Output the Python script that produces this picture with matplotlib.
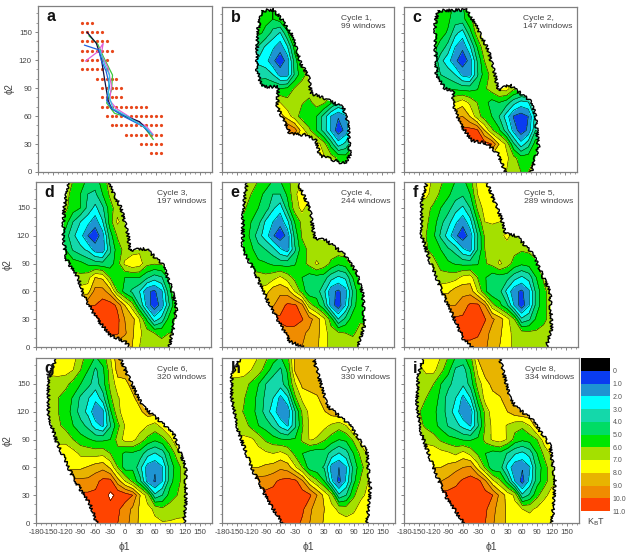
import numpy as np
import matplotlib
matplotlib.use('Agg')
import matplotlib.pyplot as plt
from matplotlib.patches import Polygon
from matplotlib.colors import ListedColormap, BoundaryNorm

plt.rcParams['font.family'] = ['Liberation Sans', 'DejaVu Sans']
plt.rcParams['axes.unicode_minus'] = False

"""values read off the picture"""
phi1_grid = list(range(-165, 136, 15))
phi2_grid = [180, 165, 150, 135, 120, 105, 90, 75, 60, 45, 30, 15, 0]

levels = [0, 1, 2, 3, 4, 5, 6, 7, 8, 9, 10, 11]
level_labels = ['0', '1.0', '2.0', '3.0', '4.0', '5.0', '6.0', '7.0', '8.0', '9.0', '10.0', '11.0']
level_colors = ['#0a3cf0', '#1e94d2', '#00ffff', '#14d8aa', '#00dc64', '#00e600',
                '#a4e000', '#ffff00', '#e8b400', '#f08c00', '#ff4400']

panel_names = ['b', 'c', 'd', 'e', 'f', 'g', 'h', 'i']
cycle_text = ['Cycle 1,\n99 windows', 'Cycle 2,\n147 windows', 'Cycle 3,\n197 windows',
              'Cycle 4,\n244 windows', 'Cycle 5,\n289 windows', 'Cycle 6,\n320 windows',
              'Cycle 7,\n330 windows', 'Cycle 8,\n334 windows']

# energy surfaces: one row per phi2 from 180 down to 0, (first phi1, values every 15 deg)
energy_b = [
    (-105, [5.3, 5.2, 5.0, 5.5]),
    (-105, [5.3, 5.2, 5.0, 5.5]),
    (-105, [5.2, 4.8, 3.6, 2.9, 4.9, 6.0]),
    (-105, [3.9, 2.8, 2.2, 1.4, 2.9, 5.4]),
    (-105, [2.8, 2.4, 1.2, 0.4, 1.4, 4.5, 6.2]),
    (-105, [3.5, 3.6, 3.0, 1.6, 1.6, 4.2, 5.7, 6.3]),
    (-60, [5.0, 5.2, 6.1, 6.4, 6.6]),
    (-60, [7.0, 6.4, 6.2, 6.1, 5.7, 6.5, 6.2, 5.2, 4.0, 4.7]),
    (-60, [8.5, 7.5, 6.5, 5.5, 5.2, 5.0, 3.6, 1.9, 1.1, 1.8, 3.7]),
    (-45, [10.3, 9.5, 7.5, 6.2, 5.0, 3.6, 1.8, 0.4, 1.3, 3.3]),
    (0, [8.0, 7.5, 6.5, 4.6, 2.5, 3.3, 4.8]),
    (15, [7.5, 7.2, 6.5, 5.8, 5.5, 5.8]),
    (60, [6.0, 6.0]),
]
energy_c = [
    (-120, [6.5, 5.9, 5.4, 4.8, 4.9, 6.0, 6.7]),
    (-120, [6.3, 5.7, 5.2, 4.5, 4.6, 5.8, 6.5]),
    (-120, [5.7, 5.3, 4.9, 3.3, 2.5, 4.5, 6.5, 7.5]),
    (-120, [5.3, 4.7, 3.6, 2.0, 1.2, 2.8, 5.0, 6.8, 7.5]),
    (-120, [5.0, 3.3, 2.4, 1.2, 0.4, 1.3, 4.0, 6.0, 6.7]),
    (-120, [4.5, 4.0, 3.6, 3.0, 1.7, 1.4, 3.8, 5.5, 6.3, 6.8]),
    (-90, [5.0, 4.8, 4.6, 4.6, 4.9, 5.8, 6.5, 7.3, 7.5, 6.2, 6.0]),
    (-75, [7.0, 7.6, 6.8, 6.0, 5.4, 4.6, 5.0, 4.5, 3.4, 2.6, 2.9, 4.5]),
    (-75, [8.8, 9.0, 8.0, 6.5, 5.5, 5.0, 4.0, 2.5, 0.9, 0.5, 1.0, 3.4]),
    (-60, [10.3, 10.4, 10.2, 8.0, 6.2, 5.2, 3.5, 1.6, 0.4, 1.2, 4.0]),
    (-30, [10.5, 10.5, 10.0, 8.0, 6.8, 4.2, 2.4, 3.6, 5.5]),
    (15, [7.5, 7.3, 6.3, 5.5, 5.5, 6.0]),
    (30, [7.0, 6.5, 6.0, 6.0, 6.2]),
]
energy_d = [
    (-120, [6.5, 6.0, 5.5, 4.8, 4.5, 5.5, 6.5]),
    (-120, [6.3, 5.7, 5.0, 4.0, 3.8, 5.0, 6.2, 6.5]),
    (-120, [6.2, 5.5, 5.0, 3.7, 2.7, 3.8, 5.5, 6.6, 6.7]),
    (-135, [6.0, 5.5, 4.0, 3.0, 2.3, 1.4, 2.9, 5.5, 7.2, 6.5, 6.3]),
    (-120, [4.5, 3.2, 2.4, 1.0, 0.4, 1.5, 4.5, 6.1, 6.8, 6.5]),
    (-120, [5.0, 3.9, 3.3, 2.8, 1.5, 1.3, 3.8, 5.5, 6.3, 6.5, 6.8, 6.5]),
    (-105, [5.5, 5.3, 4.8, 4.5, 4.3, 4.5, 5.5, 7.2, 7.8, 7.5, 6.3, 6.1, 6.2]),
    (-90, [6.3, 6.6, 8.0, 7.8, 6.0, 5.5, 5.0, 5.0, 5.0, 4.2, 3.5, 3.9, 5.3]),
    (-75, [7.5, 9.4, 9.4, 8.5, 6.0, 4.6, 3.8, 3.0, 1.2, 0.8, 1.8, 4.6, 6.3]),
    (-60, [10.0, 10.5, 10.5, 9.8, 8.0, 6.5, 4.0, 1.6, 0.4, 1.4, 3.9, 6.0]),
    (-45, [10.7, 10.7, 10.3, 9.0, 8.4, 7.0, 4.8, 2.4, 3.4, 5.4, 6.3]),
    (-30, [10.3, 10.2, 9.2, 8.2, 7.2, 6.5, 6.0, 5.8, 6.0]),
    (15, [8.0, 7.0, 6.5, 6.4, 6.3, 6.5]),
]
energy_e = [
    (-135, [6.5, 6.2, 6.0, 5.5, 5.0, 5.0, 5.5, 7.0]),
    (-135, [6.3, 6.0, 5.3, 4.8, 4.0, 4.0, 5.2, 6.8, 7.5]),
    (-135, [6.2, 5.5, 5.0, 4.6, 3.2, 2.4, 4.5, 6.5, 7.3, 6.5]),
    (-135, [5.7, 5.0, 4.4, 2.8, 2.0, 1.3, 2.7, 5.0, 6.3, 6.4]),
    (-135, [5.5, 4.8, 3.4, 2.5, 1.1, 0.4, 1.3, 4.3, 6.1, 6.4, 6.5]),
    (-135, [5.5, 5.2, 4.5, 4.0, 3.4, 2.2, 1.5, 3.8, 5.6, 6.2, 6.3, 6.4, 6.5, 6.6]),
    (-120, [5.3, 5.2, 5.1, 4.8, 4.6, 4.6, 4.9, 5.6, 6.3, 7.2, 6.6, 5.8, 5.2, 5.5, 6.3]),
    (-105, [6.5, 6.3, 6.6, 7.2, 6.5, 5.7, 5.0, 4.5, 4.6, 4.5, 3.4, 2.8, 3.2, 5.0, 6.2]),
    (-90, [7.5, 8.6, 8.8, 8.5, 7.0, 5.6, 4.3, 4.5, 3.3, 1.3, 0.8, 1.6, 4.1, 5.8]),
    (-75, [8.9, 9.5, 10.2, 10.2, 9.3, 6.5, 5.5, 4.2, 1.6, 0.4, 2.0, 4.5, 5.7]),
    (-60, [10.2, 10.6, 10.6, 10.1, 9.4, 8.5, 7.3, 5.5, 3.0, 4.3, 5.5, 5.9]),
    (-45, [9.5, 9.4, 9.2, 8.8, 8.3, 7.5, 6.5, 6.2, 6.0, 5.9, 6.2]),
    (-15, [9.0, 8.5, 8.2, 7.5, 6.5, 6.3, 6.2, 6.3]),
]
energy_f = [
    (-135, [7.5, 6.8, 6.2, 5.6, 5.0, 4.8, 5.6, 7.3, 8.0]),
    (-135, [7.3, 6.5, 5.8, 5.2, 4.5, 4.2, 5.0, 7.0, 7.8]),
    (-150, [6.5, 6.3, 5.8, 5.0, 4.4, 3.4, 2.8, 4.0, 6.2, 7.5, 7.7, 7.5]),
    (-150, [6.4, 6.2, 5.5, 4.3, 3.4, 2.2, 1.3, 2.6, 5.0, 7.0, 7.1, 7.0]),
    (-150, [6.2, 6.0, 5.2, 3.8, 2.5, 1.2, 0.4, 1.4, 3.9, 6.2, 6.5, 6.6, 7.3, 6.5]),
    (-150, [6.4, 6.1, 5.7, 5.0, 4.2, 3.6, 2.2, 1.6, 4.0, 6.0, 6.4, 6.5, 6.4, 6.3, 6.1, 6.2]),
    (-120, [6.3, 5.7, 5.2, 4.9, 4.7, 4.7, 4.9, 5.9, 6.3, 7.2, 6.5, 5.6, 5.2, 5.4, 5.9, 6.4]),
    (-105, [6.3, 6.5, 6.6, 7.3, 7.5, 6.0, 5.1, 4.4, 4.5, 4.4, 3.4, 2.8, 3.4, 5.0, 6.2, 6.6]),
    (-90, [7.8, 8.5, 8.7, 8.6, 7.0, 5.2, 4.2, 4.3, 2.7, 1.3, 0.8, 1.8, 4.4, 5.7, 6.5]),
    (-75, [9.0, 9.5, 10.2, 10.3, 9.0, 6.4, 5.3, 4.2, 1.9, 0.4, 1.9, 4.4, 5.7, 6.5]),
    (-60, [10.2, 10.7, 10.7, 10.1, 9.2, 8.5, 7.4, 6.0, 3.2, 3.8, 5.2, 5.8, 6.3]),
    (-45, [10.5, 10.2, 9.5, 8.6, 8.2, 7.4, 6.7, 6.5, 6.3, 6.2, 6.3]),
    (-30, [9.5, 9.2, 8.5, 8.0, 7.5, 6.7, 6.5, 6.4, 6.3, 6.4]),
]
energy_g = [
    (-135, [8.0, 7.8, 7.4, 6.5, 5.5, 5.0, 5.5, 7.0, 8.8]),
    (-135, [7.5, 7.4, 7.0, 6.0, 5.0, 3.8, 4.8, 6.5, 8.5]),
    (-150, [6.3, 6.4, 6.3, 5.6, 5.0, 4.3, 3.5, 4.6, 6.3, 7.5, 7.7, 8.4]),
    (-150, [6.3, 6.0, 5.5, 4.9, 3.8, 3.1, 2.3, 3.6, 5.8, 6.9, 7.5, 7.8, 8.5]),
    (-150, [6.5, 6.0, 5.4, 4.7, 3.5, 2.7, 1.2, 1.7, 4.8, 6.7, 7.6, 7.7, 7.8, 8.5]),
    (-135, [6.2, 5.6, 5.0, 4.4, 3.7, 2.4, 1.8, 3.9, 5.7, 7.1, 7.5, 7.5, 7.0, 6.6, 7.4, 8.3]),
    (-120, [6.8, 6.0, 5.4, 5.1, 4.8, 4.8, 5.0, 6.4, 7.4, 7.3, 6.5, 5.7, 5.2, 5.6, 6.6, 8.0]),
    (-105, [7.4, 6.8, 6.7, 6.6, 6.7, 6.0, 5.6, 4.7, 4.8, 4.5, 3.4, 2.9, 3.5, 5.1, 6.5, 7.5]),
    (-90, [7.8, 8.1, 8.5, 8.7, 7.8, 6.0, 4.5, 4.8, 3.3, 1.5, 1.1, 1.9, 4.4, 5.5, 6.6]),
    (-75, [9.3, 9.7, 10.3, 10.4, 8.5, 7.0, 5.8, 4.3, 1.5, 0.9, 2.0, 4.6, 5.6, 6.6]),
    (-60, [10.2, 10.5, 11.2, 10.8, 10.5, 10.0, 8.0, 6.5, 3.2, 4.0, 5.4, 6.0, 6.7]),
    (-45, [10.5, 10.7, 10.2, 9.5, 8.8, 7.8, 7.3, 6.8, 6.2, 6.5, 6.6, 6.7]),
    (-45, [10.3, 10.3, 10.0, 9.5, 8.5, 7.8, 7.4, 7.2, 7.1, 7.1, 7.2, 7.2]),
]
energy_h = [
    (-135, [8.0, 7.6, 7.0, 6.3, 5.5, 5.0, 5.8, 8.2, 8.8, 9.0]),
    (-135, [7.5, 7.0, 6.5, 5.5, 4.5, 3.8, 5.2, 8.2, 8.7, 8.9]),
    (-150, [6.6, 6.4, 5.8, 5.0, 4.0, 3.3, 3.5, 4.8, 6.9, 8.3, 8.6, 8.8]),
    (-150, [6.3, 6.1, 5.3, 4.8, 3.7, 3.0, 1.7, 2.8, 5.8, 7.3, 7.5, 7.8, 8.8]),
    (-150, [6.5, 5.9, 5.3, 4.7, 3.5, 2.5, 1.2, 1.3, 3.9, 6.2, 7.3, 7.6, 7.9, 8.5, 8.8]),
    (-135, [6.5, 5.7, 5.0, 4.6, 3.8, 2.7, 1.9, 3.8, 5.9, 7.2, 7.4, 7.3, 6.8, 6.4, 7.0, 8.4]),
    (-120, [7.2, 6.6, 5.8, 5.4, 5.1, 5.0, 5.1, 6.2, 7.1, 6.9, 6.1, 5.5, 5.0, 5.2, 6.2, 7.5]),
    (-120, [8.0, 7.4, 7.2, 7.0, 7.3, 6.8, 5.7, 5.0, 4.5, 4.2, 4.5, 3.6, 2.9, 3.6, 5.0, 6.3, 7.2]),
    (-105, [8.0, 8.2, 8.4, 8.8, 8.5, 7.2, 6.0, 4.5, 4.3, 3.9, 1.5, 1.0, 1.9, 4.4, 5.6, 6.8]),
    (-90, [9.5, 9.8, 10.2, 10.4, 10.3, 9.2, 7.3, 6.2, 5.0, 2.2, 0.7, 2.2, 4.7, 6.2, 7.0]),
    (-75, [10.3, 10.4, 10.6, 10.8, 10.5, 10.2, 9.0, 7.7, 6.5, 3.2, 4.0, 5.8, 6.8, 7.2]),
    (-60, [10.6, 10.5, 10.4, 10.2, 9.2, 8.5, 8.0, 7.3, 6.8, 6.5, 6.8, 7.4, 7.6]),
    (-60, [10.5, 10.4, 10.4, 9.8, 9.0, 8.4, 7.9, 7.6, 7.5, 7.4, 7.5, 7.6, 7.7]),
]
energy_i = [
    (-135, [8.0, 7.6, 7.0, 6.0, 5.0, 4.8, 5.8, 8.2, 8.8, 9.0]),
    (-150, [6.5, 7.3, 7.3, 6.3, 5.3, 3.8, 3.5, 5.0, 7.3, 8.5, 8.8]),
    (-150, [6.4, 6.2, 6.0, 5.0, 4.3, 3.5, 3.2, 4.4, 6.5, 7.6, 8.3, 8.8]),
    (-150, [6.1, 6.0, 5.5, 4.7, 3.5, 3.0, 1.7, 3.0, 5.5, 7.5, 7.7, 7.9, 8.8]),
    (-150, [6.1, 5.5, 5.2, 4.6, 3.5, 2.5, 1.2, 1.4, 4.3, 6.3, 7.6, 7.8, 8.0, 8.6, 8.9]),
    (-150, [6.3, 5.8, 5.3, 4.7, 3.9, 3.4, 2.6, 1.9, 3.9, 6.1, 7.3, 7.4, 6.9, 6.4, 6.2, 7.0, 8.6]),
    (-135, [6.7, 6.5, 5.8, 5.4, 5.2, 4.9, 4.9, 5.2, 6.3, 7.2, 7.5, 6.9, 5.6, 5.2, 5.4, 6.0, 7.6]),
    (-120, [7.6, 7.4, 7.2, 6.8, 7.4, 6.7, 5.8, 5.0, 4.5, 4.7, 3.9, 3.1, 2.7, 3.4, 5.0, 6.3, 7.3]),
    (-105, [8.0, 8.3, 8.7, 9.0, 9.2, 7.5, 5.8, 4.3, 4.4, 2.6, 1.3, 1.1, 1.9, 4.4, 5.5, 6.8]),
    (-105, [9.0, 9.3, 9.7, 10.2, 10.5, 10.4, 9.2, 7.3, 6.2, 4.6, 2.0, 0.6, 2.3, 4.6, 5.5, 6.8]),
    (-90, [10.4, 10.5, 10.6, 10.7, 10.7, 10.4, 10.0, 8.7, 7.6, 6.8, 3.2, 4.2, 5.7, 6.8, 7.3]),
    (-75, [10.6, 10.6, 10.5, 10.4, 10.2, 9.3, 8.5, 7.8, 7.3, 7.0, 6.8, 7.2, 7.5, 7.7]),
    (-60, [10.5, 10.4, 10.3, 10.0, 9.1, 8.5, 7.8, 7.6, 7.5, 7.5, 7.6, 7.7, 7.8]),
]
energies = [energy_b, energy_c, energy_d, energy_e, energy_f, energy_g, energy_h, energy_i]

# outline of the sampled region in each panel
edge_phi1_b = [-98, -74, -57, -38, -27, -18, -2, 4, 32, 70, 80, 84, 73, 60, 22, 14, -5, -40, -50, -66, -64, -98, -108, -107, -101]
edge_phi2_b = [174, 175, 165, 150, 135, 117, 104, 85, 79, 70, 52, 18, 9, 11, 18, 34, 40, 41, 54, 70, 92, 92, 111, 149, 167]
edge_phi1_c = [-110, -51, -27, -7, 7, 13, 37, 78, 89, 96, 78, 31, 13, -11, -41, -65, -79, -79, -96, -113, -116, -116]
edge_phi2_c = [174, 175, 153, 131, 104, 88, 94, 77, 63, 27, -5, -5, 20, 31, 34, 52, 74, 88, 90, 104, 138, 160]
edge_phi1_d = [-111, -40, -7, 7, 10, 44, 78, 95, 105, 98, 88, 20, 0, -30, -57, -84, -94, -119, -125, -123]
edge_phi2_d = [185, 185, 149, 120, 104, 106, 88, 63, 42, 20, -5, -5, 6, 13, 31, 56, 74, 95, 120, 149]
edge_phi1_e = [-126, -30, 1, 11, 35, 70, 97, 111, 114, 97, 8, -40, -85, -116, -137, -137, -133]
edge_phi2_e = [185, 185, 149, 117, 115, 101, 81, 56, 24, -5, -5, 6, 49, 85, 104, 138, 163]
edge_phi1_f = [-130, -17, 19, 26, 50, 84, 118, 121, 108, -32, -59, -96, -127, -144, -144]
edge_phi2_f = [185, 185, 138, 122, 120, 99, 59, 20, -5, -5, 9, 52, 92, 120, 156]
edge_phi1_g = [-135, -17, 27, 37, 68, 98, 122, 122, 118, -54, -71, -104, -138, -155, -155]
edge_phi2_g = [185, 185, 134, 125, 111, 95, 59, 23, -5, -5, 20, 48, 87, 116, 155]
edge_phi1_h = [-136, 4, 35, 83, 117, 124, 117, -50, -81, -119, -146, -160, -160]
edge_phi2_h = [185, 185, 127, 105, 77, 37, -5, -5, 20, 59, 98, 134, 159]
edge_phi1_i = [-137, 11, 35, 48, 79, 116, 126, 123, 119, -53, -93, -117, -144, -154, -151]
edge_phi2_i = [185, 185, 134, 125, 112, 84, 48, 16, -5, -5, 27, 55, 95, 127, 159]
edges_phi1 = [edge_phi1_b, edge_phi1_c, edge_phi1_d, edge_phi1_e, edge_phi1_f, edge_phi1_g, edge_phi1_h, edge_phi1_i]
edges_phi2 = [edge_phi2_b, edge_phi2_c, edge_phi2_d, edge_phi2_e, edge_phi2_f, edge_phi2_g, edge_phi2_h, edge_phi2_i]

# panel a, sampling windows: one row per phi2, phi1 from start to stop every 10 deg
window_phi2 = [160, 150, 140, 130, 120, 110, 100, 90, 80, 70, 60, 50, 40, 30, 20]
window_start = [-90, -90, -90, -90, -90, -90, -60, -50, -50, -50, -40, -30, 0, 30, 50]
window_stop = [-70, -50, -40, -30, -40, -40, -20, -10, -10, 40, 70, 70, 70, 70, 70]

# panel a, paths per cycle
path_black_x = [-80, -61, -51, -44, -37, -30, -7, 27, 48]
path_black_y = [150, 138, 122, 99, 77, 68, 61, 54, 42]
path_green_x = [-76, -58, -47, -28, -30, -40, -24, 0, 34, 55]
path_green_y = [146, 137, 124, 104, 88, 74, 63, 59, 50, 35]
path_blue_x = [-85, -56, -51, -41, -34, -40, -30, -3, 34, 48]
path_blue_y = [136, 131, 120, 108, 92, 77, 68, 59, 49, 42]
path_cyan_x = [-54, -44, -34, -37, -27, 4, 41, 53]
path_cyan_y = [131, 115, 104, 85, 68, 59, 47, 40]
path_magenta_x = [-83, -58, -47, -51, -37, -30, -34, -20, 7, 41, 55]
path_magenta_y = [119, 129, 138, 126, 111, 92, 77, 68, 59, 49, 40]

phi1_ticks = [-180, -150, -120, -90, -60, -30, 0, 30, 60, 90, 120, 150]
phi2_ticks = [0, 30, 60, 90, 120, 150]

"""layout, in pixels of the reference"""
W, H = 629, 557
boxes = {'a': (38, 6, 212, 172), 'b': (222, 7, 394, 172), 'c': (404, 7, 577, 172),
         'd': (36, 182, 211, 347), 'e': (222, 182, 394, 347), 'f': (404, 182, 578, 347),
         'g': (36, 358, 212, 523), 'h': (222, 358, 395, 523), 'i': (404, 358, 579, 523)}
grey = '#555555'


def add_panel(fig, name):
    x0, y0, x1, y1 = boxes[name]
    ax = fig.add_axes([x0 / W, 1 - y1 / H, (x1 - x0) / W, (y1 - y0) / H])
    ax.set_xlim(-180, 175)
    ax.set_ylim(0, 178)
    ax.set_xticks(phi1_ticks)
    ax.set_yticks(phi2_ticks)
    ax.set_xticks(np.arange(-180, 175, 10), minor=True)
    ax.set_yticks(np.arange(0, 178, 10), minor=True)
    ax.tick_params(which='major', length=2.5, width=0.5, color=grey, labelsize=5.6,
                   labelcolor='#444444', pad=2)
    ax.tick_params(which='minor', length=1.3, width=0.4, color=grey)
    ax.tick_params(labelleft=name in 'adg', labelbottom=name in 'ghi')
    for s in ax.spines.values():
        s.set_color('#808080')
        s.set_linewidth(0.9)
    if name in 'adg':
        ax.set_ylabel('\u03d52', fontsize=7, color='#444444', labelpad=3)
    if name in 'ghi':
        ax.set_xlabel('\u03d51', fontsize=7.5, color='#444444', labelpad=4)
    ax.text(0.05, 0.935, name, transform=ax.transAxes, fontsize=11.5, fontweight='bold',
            va='center', ha='left', color='#111111', zorder=10)
    return ax


def expand_rows(rows):
    # cells outside the outline are never seen, they just repeat the end value of the row
    out = []
    for first, vals in rows:
        xs = first + 15 * np.arange(len(vals))
        out.append(np.interp(phi1_grid, xs, vals))
    return np.array(out)


fig = plt.figure(figsize=(W / 100, H / 100), dpi=100)

# panel a
ax = add_panel(fig, 'a')
for p2, a, b in zip(window_phi2, window_start, window_stop):
    xs = np.arange(a, b + 1, 10)
    ax.plot(xs, np.full(len(xs), p2), ls='none', marker='o', ms=2.3, color='#e8471c', mew=0)
ax.plot(path_green_x, path_green_y, color='#3cc83c', lw=0.9)
ax.plot(path_magenta_x, path_magenta_y, color='#e060d8', lw=0.9)
ax.plot(path_black_x, path_black_y, color='#101040', lw=0.9)
ax.plot(path_blue_x, path_blue_y, color='#2060e0', lw=0.9)
ax.plot(path_cyan_x, path_cyan_y, color='#30c0e0', lw=0.9)

# free energy panels
for i, name in enumerate(panel_names):
    ax = add_panel(fig, name)
    z = expand_rows(energies[i])
    outline = Polygon(np.column_stack([edges_phi1[i], edges_phi2[i]]), closed=True,
                      facecolor='none', edgecolor='none', transform=ax.transData)
    ax.add_patch(outline)
    cf = ax.contourf(phi1_grid, phi2_grid, z, levels=levels, colors=level_colors)
    cl = ax.contour(phi1_grid, phi2_grid, z, levels=levels, colors='black', linewidths=0.35)
    cf.set_clip_path(outline)
    cl.set_clip_path(outline)
    line, = ax.plot(edges_phi1[i] + edges_phi1[i][:1], edges_phi2[i] + edges_phi2[i][:1],
                    color='black', lw=1.0)
    line.set_sketch_params(scale=1.5, length=3, randomness=6)
    ax.text(0.69, 0.905, cycle_text[i], transform=ax.transAxes, fontsize=6.1,
            color='#444444', va='center', ha='left', linespacing=1.25, zorder=10)

# colour key
x0, y0, x1, y1 = 581, 358, 610, 511
cax = fig.add_axes([x0 / W, 1 - y1 / H, (x1 - x0) / W, (y1 - y0) / H])
key_edges = [-1] + levels
key_cmap = ListedColormap(['black'] + level_colors)
key_norm = BoundaryNorm(key_edges, key_cmap.N)
key_mid = [(a + b) / 2 for a, b in zip(key_edges[:-1], key_edges[1:])]
cax.pcolormesh([0, 1], key_edges, np.array(key_mid).reshape(-1, 1), cmap=key_cmap, norm=key_norm)
cax.set_ylim(11, -1)
cax.set_xticks([])
cax.set_yticks(levels)
cax.set_yticklabels(level_labels)
cax.yaxis.tick_right()
cax.tick_params(length=0, labelsize=5, labelcolor='#555555', pad=2)
for s in cax.spines.values():
    s.set_visible(False)
cax.set_xlabel('K$_{\\mathrm{B}}$T', fontsize=6.5, color='#444444', labelpad=4)

fig.savefig('out.png', dpi=100)
